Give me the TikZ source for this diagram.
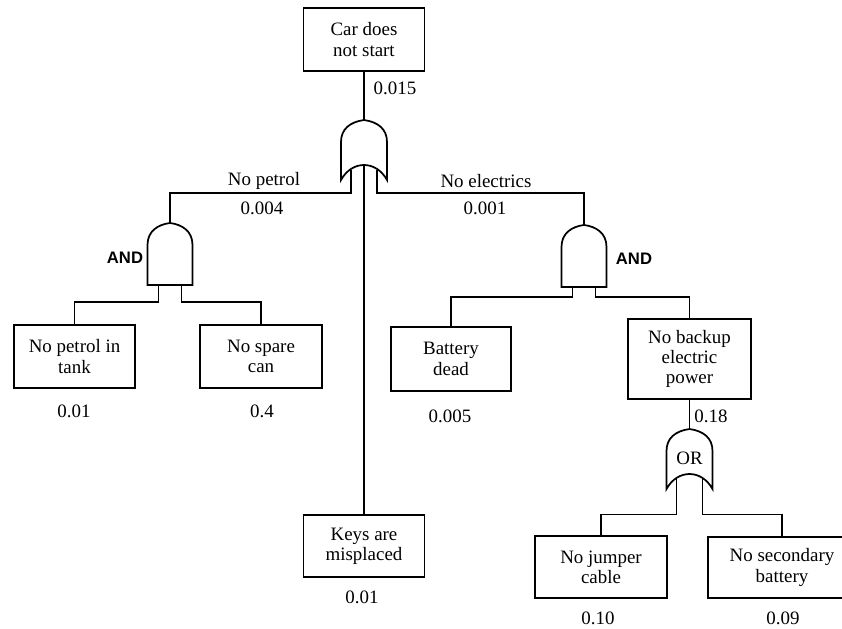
\documentclass[tikz,border=0pt]{standalone}
\usepackage{fontspec}
\setmainfont{Liberation Serif}
\setsansfont{Liberation Sans}
\begin{document}
\begin{tikzpicture}[x=0.75pt,y=-0.75pt,
  txt/.style={font=\fontsize{14.2}{15.2}\selectfont},
  event/.style={txt, draw, line width=1.3pt, align=center, inner sep=0pt},
  prob/.style={txt, inner sep=0pt},
  gatelabel/.style={font=\fontsize{12.5}{15}\selectfont\sffamily\bfseries, inner sep=0pt},
  wire/.style={line width=1.1pt},
  gate/.style={line width=1.3pt, fill=white},
  orgate/.pic={
    \draw[gate] (0,0) .. controls (-14,2) and (-23,9) .. (-23,22) -- (-23,60)
      .. controls (-12,40) and (12,40) .. (23,60) -- (23,22)
      .. controls (23,9) and (14,2) .. (0,0) -- cycle;
    \coordinate (-top) at (0,0);
    \coordinate (-in1) at (-13,49.5);
    \coordinate (-in2) at (0,45);
    \coordinate (-in3) at (13,49.5);
  },
  andgate/.pic={
    \draw[gate] (-22.5,62) -- (-22.5,22) .. controls (-22.5,8) and (-12,1.5) .. (0,0)
      .. controls (12,1.5) and (22.5,8) .. (22.5,22) -- (22.5,62) -- cycle;
    \coordinate (-top) at (0,0);
    \coordinate (-in1) at (-11.5,62);
    \coordinate (-in2) at (11.5,62);
  }]
\useasboundingbox (0,0) rectangle (842,628);
\clip (0,0) rectangle (842,628);

% events
\node[event, minimum width=90.75pt, minimum height=47.25pt] (top) at (364,39.5) {Car does\\not start};
\node[event, minimum width=90.75pt, minimum height=47.25pt] (tank) at (74.5,356.5) {No petrol in\\tank};
\node[event, minimum width=91.5pt, minimum height=47.25pt] (spare) at (261,356.5) {No spare\\can};
\node[event, minimum width=90pt, minimum height=48pt] (battery) at (451,359) {Battery\\dead};
\node[event, minimum width=92.25pt, minimum height=60pt] (backup) at (689.5,359) {No backup\\electric\\power};
\node[event, minimum width=90.75pt, minimum height=46.5pt] (keys) at (364,546) {Keys are\\misplaced};
\node[event, minimum width=99pt, minimum height=46.5pt] (jumper) at (601,567) {No jumper\\cable};
\node[event, minimum width=111pt, minimum height=45.75pt] (secondary) at (782,567.5) {No secondary\\battery};

% gates
\pic (g0) at (364,120) {orgate};
\pic (andL) at (170,223) {andgate};
\pic (andR) at (584,225) {andgate};
\pic (g2) at (689.5,429) {orgate};

% connectors
\draw[wire] (top.south) -- (g0-top);
\draw[wire] (g0-in1) -- ++(0,23.5) -| (andL-top);
\draw[wire] (g0-in3) -- ++(0,23.5) -| (andR-top);
\draw[wire] (g0-in2) -- (keys.north);
\draw[wire] (andL-in1) -- ++(0,17) -| (tank.north);
\draw[wire] (andL-in2) -- ++(0,17) -| (spare.north);
\draw[wire] (andR-in1) -- ++(0,10) -| (battery.north);
\draw[wire] (andR-in2) -- ++(0,10) -| (backup.north);
\draw[wire] (backup.south) -- (g2-top);
\draw[wire] (g2-in1) -- ++(0,36) -| (jumper.north);
\draw[wire] (g2-in3) -- ++(0,36) -| (secondary.north);

% labels
\node[prob] (p0) at (395,88) {0.015};
\node[prob] (lp) at (264,181) {No petrol};
\node[prob] (pp) at (262,208) {0.004};
\node[prob] (le) at (486,181) {No electrics};
\node[prob] (pe) at (485,208) {0.001};
\node[gatelabel] (aL) at (125,258) {AND};
\node[gatelabel] (aR) at (634,259) {AND};
\node[prob] (orl) at (689.5,458) {OR};
\node[prob] (p1) at (74,411) {0.01};
\node[prob] (p2) at (262,411) {0.4};
\node[prob] (p3) at (450,416) {0.005};
\node[prob] (p4) at (711,416) {0.18};
\node[prob] (p5) at (362,597) {0.01};
\node[prob] (p6) at (598,618) {0.10};
\node[prob] (p7) at (783,618) {0.09};
\end{tikzpicture}
\end{document}
